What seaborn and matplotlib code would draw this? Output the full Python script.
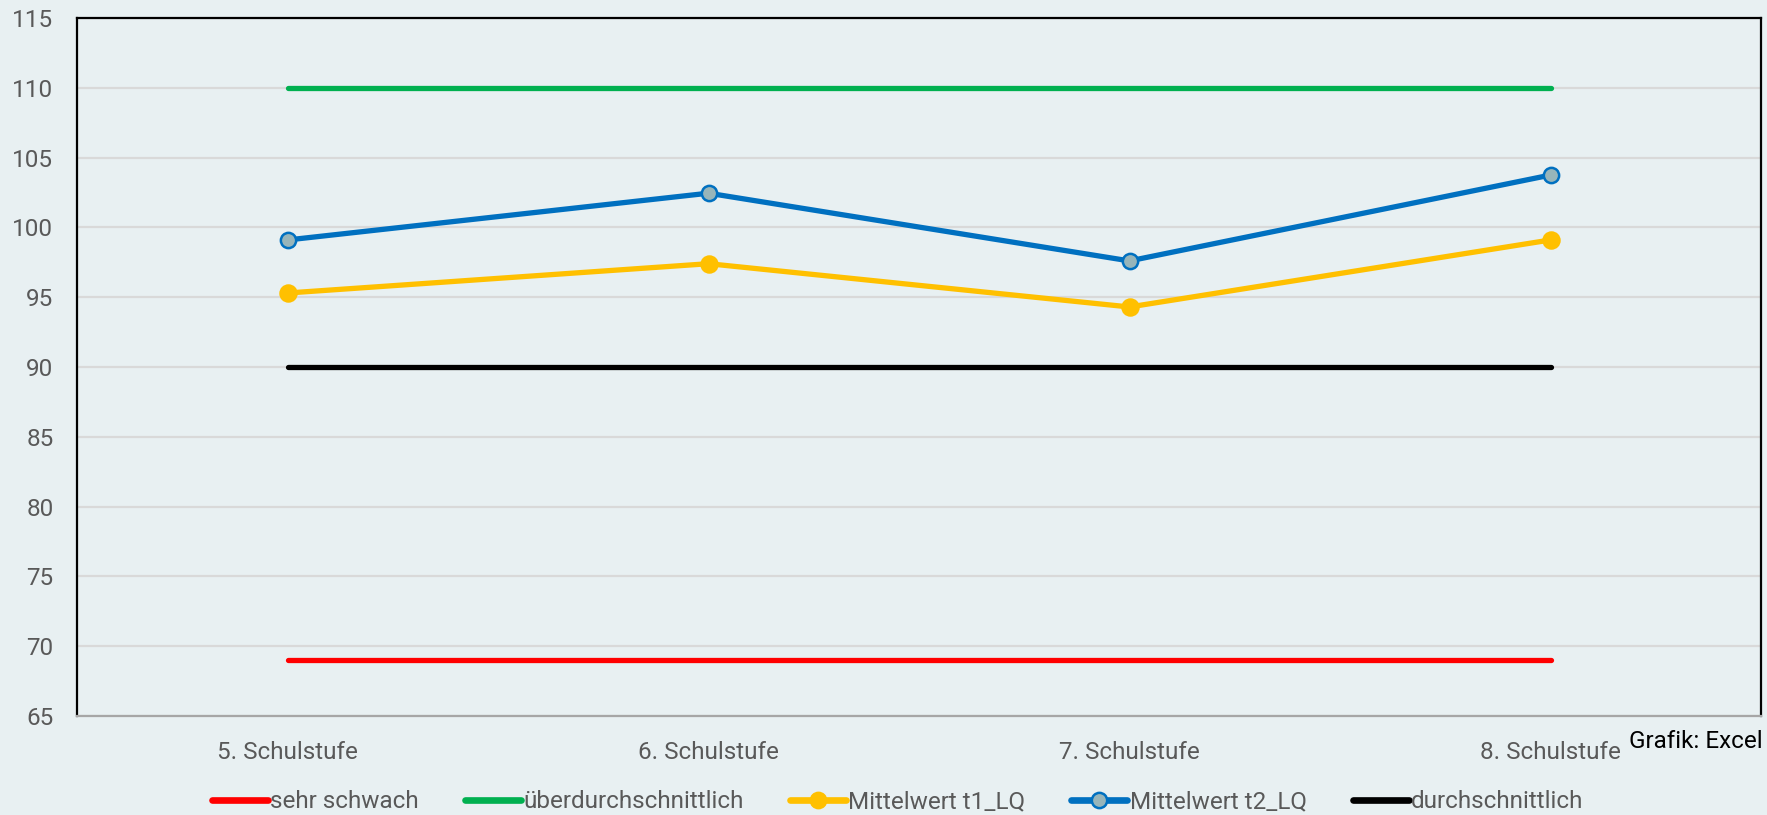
import matplotlib
matplotlib.use("Agg")
import matplotlib.pyplot as plt
import seaborn as sns
import pandas as pd
from matplotlib.lines import Line2D

categories = ["5. Schulstufe", "6. Schulstufe", "7. Schulstufe", "8. Schulstufe"]
sehr_schwach = [69, 69, 69, 69]
ueberdurchschnittlich = [110, 110, 110, 110]
mittelwert_t1 = [95.3, 97.4, 94.3, 99.1]
mittelwert_t2 = [99.1, 102.45, 97.6, 103.75]
durchschnittlich = [90, 90, 90, 90]
y_ticks = [65, 70, 75, 80, 85, 90, 95, 100, 105, 110, 115]

bg = "#E8F0F2"
sns.set_theme(style="white")
plt.rcParams['font.family'] = ['Roboto', 'DejaVu Sans']

fig = plt.figure(figsize=(17.67, 8.15), dpi=100, facecolor=bg)
ax = fig.add_axes([77/1767, 1 - 716/815, (1761-77)/1767, (716-18)/815])
ax.set_facecolor(bg)

series = [
    ("sehr schwach", sehr_schwach, "#FF0000", None, None, None),
    ("überdurchschnittlich", ueberdurchschnittlich, "#00B050", None, None, None),
    ("Mittelwert t1_LQ", mittelwert_t1, "#FFC000", "o", "#FFC000", "#FFC000"),
    ("Mittelwert t2_LQ", mittelwert_t2, "#0070C0", "o", "#97B5BA", "#0070C0"),
    ("durchschnittlich", durchschnittlich, "#000000", None, None, None),
]

handles = []
for name, vals, col, mk, mfc, mec in series:
    df = pd.DataFrame({"x": categories, "y": vals})
    kw = {}
    if mk:
        kw = dict(marker=mk, markersize=11.5 if name.endswith("t1_LQ") else 11,
                  markerfacecolor=mfc, markeredgecolor=mec, markeredgewidth=1.8)
    sns.lineplot(data=df, x="x", y="y", ax=ax, color=col, linewidth=3.8,
                 solid_capstyle="round", sort=False, legend=False, zorder=3, **kw)
    handles.append(Line2D([0], [0], color=col, linewidth=4.8, solid_capstyle="round",
                          marker=mk if mk else None, markersize=11,
                          markerfacecolor=mfc, markeredgecolor=mec, markeredgewidth=1.8,
                          label=name))

ax.set_xlim(-0.5, 3.5)
ax.set_ylim(65, 115)
ax.set_yticks(y_ticks)
ax.set_yticklabels([str(v) for v in y_ticks])
ax.set_xticks(range(len(categories)))
ax.set_xticklabels(categories)
ax.set_xlabel("")
ax.set_ylabel("")
ax.yaxis.grid(True, color="#D9D9D9", linewidth=1.6, zorder=0)
ax.xaxis.grid(False)
ax.set_axisbelow(True)
ax.tick_params(axis="y", length=0, pad=17, labelsize=17.5, labelcolor="#595959")
ax.tick_params(axis="x", length=0, pad=18, labelsize=17.5, labelcolor="#595959")

for s in ["left", "top", "right"]:
    ax.spines[s].set_color("#000000")
    ax.spines[s].set_linewidth(1.6)
ax.spines["bottom"].set_color("#A6A6A6")
ax.spines["bottom"].set_linewidth(1.6)

fig.text(1763/1767, 1 - 742/815, "Grafik: Excel", ha="right", va="center",
         fontsize=17.5, color="#000000")

leg = fig.legend(handles=handles, loc="center", bbox_to_anchor=(0.508, 1 - 802/815),
                 ncol=5, frameon=False, handlelength=2.3, handletextpad=0.1,
                 columnspacing=1.9, labelcolor="#595959",
                 prop={"size": 17.5})

fig.savefig("out.png", dpi=100, facecolor=bg)
